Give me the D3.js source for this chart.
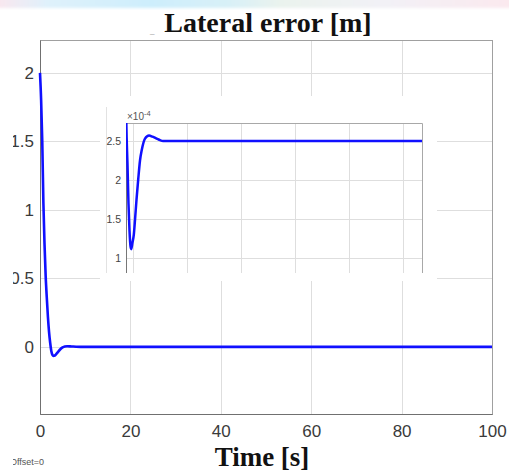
<!DOCTYPE html>
<html>
<head>
<meta charset="utf-8">
<script src="https://cdn.jsdelivr.net/npm/d3@7"></script>
<style>
  body { margin: 0; background: #fff; }
  svg { display: block; }
</style>
</head>
<body>
<svg width="509" height="472"></svg>
<script>
// main curve: lateral error vs time
var timeMain  = [0, 0.25, 0.5, 0.75, 1, 1.25, 1.5, 1.75, 2, 2.25, 2.5, 2.75, 3, 3.25, 3.5, 4, 4.5, 5, 5.5, 6, 7, 8, 9, 20, 40, 60, 80, 100];
var errorMain = [2, 1.8, 1.5, 1.05, 0.75, 0.52, 0.36, 0.22, 0.11, 0.03, -0.03, -0.058, -0.066, -0.064, -0.056, -0.036, -0.017, -0.004, 0.003, 0.005, 0.003, 0.001, 0, 0, 0, 0, 0, 0];
var xTicksMain = [0, 20, 40, 60, 80, 100];
var yTicksMain = [0, 0.5, 1, 1.5, 2];

// inset curve (values x 1e-4)
var timeInset  = [-2.5, -2.39, -1.95, -1.58, -1.2, -0.83, -0.54, -0.1, 0.39, 0.83, 1.39, 2.05, 2.68, 3.31, 4.53, 6.01, 7.3, 8.86, 10.1, 11.2, 14, 40, 70, 107];
var errorInset = [3.0, 2.75, 2.2, 1.7, 1.35, 1.15, 1.115, 1.2, 1.3, 1.49, 1.75, 2.02, 2.25, 2.38, 2.53, 2.57, 2.555, 2.53, 2.51, 2.5, 2.5, 2.5, 2.5, 2.5];
var xTicksInset = [0, 20, 40, 60, 80, 100];
var yTicksInset = [1, 1.5, 2, 2.5];

var svg = d3.select("svg");
var font = "'Liberation Sans', Arial, sans-serif";
var serif = "'Liberation Serif', 'Times New Roman', serif";

// blurry banner at the top
var defs = svg.append("defs");
var grad = defs.append("linearGradient").attr("id", "band");
[["0", "#fbe6ee"], ["0.1", "#dff1fb"], ["0.3", "#cdeefc"], ["0.45", "#d8f0f7"], ["0.55", "#eaf3ee"], ["0.75", "#f2f1f6"], ["1", "#fbe8ee"]]
	.forEach(s => grad.append("stop").attr("offset", s[0]).attr("stop-color", s[1]));
defs.append("filter").attr("id", "blur").append("feGaussianBlur").attr("stdDeviation", 1.5);
svg.append("rect").attr("x", -5).attr("y", -4).attr("width", 520).attr("height", 12)
	.attr("fill", "url(#band)").attr("filter", "url(#blur)");

// main axes
var x = d3.scaleLinear().domain([0, 100]).range([40, 492]);
var y = d3.scaleLinear().domain([-0.49, 2.24]).range([414, 40]);

var grid = svg.append("g").attr("stroke", "#dedede").attr("stroke-width", 1);
grid.selectAll(".gx").data(xTicksMain.slice(1, -1)).enter().append("line")
	.attr("x1", d => Math.round(x(d)) + 0.5).attr("x2", d => Math.round(x(d)) + 0.5)
	.attr("y1", 40).attr("y2", 414);
grid.selectAll(".gy").data(yTicksMain).enter().append("line")
	.attr("x1", 40).attr("x2", 492)
	.attr("y1", d => Math.round(y(d)) + 0.5).attr("y2", d => Math.round(y(d)) + 0.5);

svg.append("rect").attr("x", 40.5).attr("y", 40.5).attr("width", 452).attr("height", 374)
	.attr("fill", "none").attr("stroke", "#a0a0a0");

var xAxis = svg.append("g").attr("transform", "translate(0,414)")
	.call(d3.axisBottom(x).tickValues(xTicksMain).tickSize(0).tickPadding(11).tickFormat(d3.format("d")));
var yAxis = svg.append("g").attr("transform", "translate(40,0)")
	.call(d3.axisLeft(y).tickValues(yTicksMain).tickSize(0).tickPadding(6).tickFormat(d => d));
[xAxis, yAxis].forEach(function (a) {
	a.select(".domain").attr("stroke", "#707070");
	a.selectAll("text").attr("font-family", font).attr("font-size", 17).attr("fill", "#3a3a3a");
});

var line = d3.line().x((d, i) => x(timeMain[i])).y(d => y(d)).curve(d3.curveMonotoneX);
svg.append("path").datum(errorMain).attr("d", line)
	.attr("fill", "none").attr("stroke", "#1010ff").attr("stroke-width", 2.6);

// inset
svg.append("rect").attr("x", 100).attr("y", 96).attr("width", 337).attr("height", 185).attr("fill", "#fff");
svg.append("line").attr("x1", 106.5).attr("x2", 106.5).attr("y1", 107).attr("y2", 273)
	.attr("stroke", "#e2e2e2");

var xi = d3.scaleLinear().domain([-2.5, 107]).range([126, 422]);
var yi = d3.scaleLinear().domain([0.81, 2.73]).range([273, 123]);

var igrid = svg.append("g").attr("stroke", "#dedede");
igrid.selectAll(".ix").data(xTicksInset).enter().append("line")
	.attr("x1", d => Math.round(xi(d)) + 0.5).attr("x2", d => Math.round(xi(d)) + 0.5)
	.attr("y1", 123).attr("y2", 273);
igrid.selectAll(".iy").data(yTicksInset).enter().append("line")
	.attr("x1", 126).attr("x2", 422)
	.attr("y1", d => Math.round(yi(d)) + 0.5).attr("y2", d => Math.round(yi(d)) + 0.5);

svg.append("path").attr("d", "M126.5,273 V123.5 H422.5 V273")
	.attr("fill", "none").attr("stroke", "#a8a8a8");
svg.append("line").attr("x1", 126.5).attr("x2", 126.5).attr("y1", 123).attr("y2", 273).attr("stroke", "#777");

var yiAxis = svg.append("g").attr("transform", "translate(126,0)")
	.call(d3.axisLeft(yi).tickValues(yTicksInset).tickSize(0).tickPadding(5).tickFormat(d => d));
yiAxis.select(".domain").remove();
yiAxis.selectAll("text").attr("font-family", font).attr("font-size", 10.5).attr("fill", "#444");

var expo = svg.append("text").attr("x", 127).attr("y", 120)
	.attr("font-family", font).attr("font-size", 10).attr("fill", "#555");
expo.append("tspan").text("\u00d710");
expo.append("tspan").attr("dy", -4).attr("font-size", 7.5).text("-4");

defs.append("clipPath").attr("id", "clipInset").append("rect")
	.attr("x", 126).attr("y", 123).attr("width", 296).attr("height", 150);
var iline = d3.line().x((d, i) => xi(timeInset[i])).y(d => yi(d)).curve(d3.curveMonotoneX);
svg.append("path").datum(errorInset).attr("d", iline).attr("clip-path", "url(#clipInset)")
	.attr("fill", "none").attr("stroke", "#1010ff").attr("stroke-width", 2.5);

// labels
svg.append("text").attr("x", 268).attr("y", 32).attr("text-anchor", "middle")
	.attr("font-family", serif).attr("font-weight", "bold").attr("font-size", 28).attr("fill", "#111")
	.text("Lateral error [m]");
svg.append("text").attr("x", 150).attr("y", 33).attr("font-family", font).attr("font-size", 8).attr("fill", "#999").text("_");
svg.append("text").attr("x", 262).attr("y", 466).attr("text-anchor", "middle")
	.attr("font-family", serif).attr("font-weight", "bold").attr("font-size", 27).attr("fill", "#111")
	.text("Time [s]");
svg.append("text").attr("x", 10).attr("y", 465).attr("font-family", font).attr("font-size", 9).attr("fill", "#555")
	.text("Offset=0");

// left edge of the picture is cut off
svg.append("rect").attr("x", 0).attr("y", 35).attr("width", 13).attr("height", 437).attr("fill", "#fff");
</script>
</body>
</html>
